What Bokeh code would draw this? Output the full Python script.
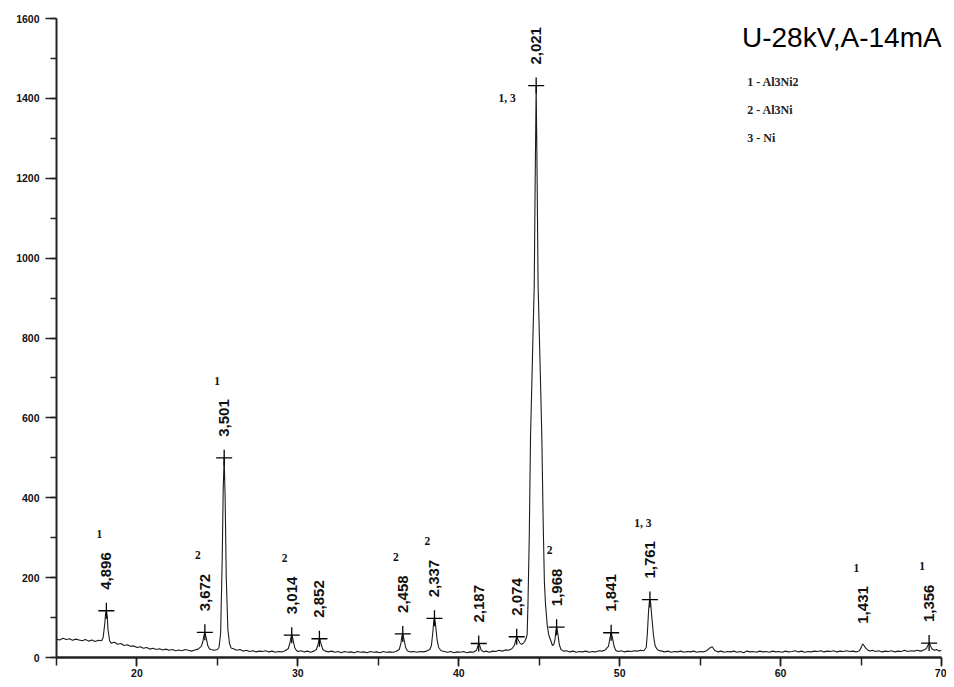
import math
from bokeh.plotting import figure
from bokeh.models import Range1d, SingleIntervalTicker, Label
from bokeh.core.properties import value
from bokeh.embed import file_html
from bokeh.resources import INLINE

# ---- diffractogram trace (2theta, intensity) ----
two_theta = [
    15.0, 15.2, 15.4, 15.6, 15.8, 16.0, 16.2, 16.4, 16.6, 16.8, 17.0, 17.2, 17.4, 17.6, 17.8,
    17.9, 18.0, 18.05, 18.1, 18.15, 18.2, 18.3, 18.4, 18.6, 18.8, 19.0, 19.2, 19.4, 19.6, 19.8,
    20.0, 20.2, 20.4, 20.6, 20.8, 21.0, 21.2, 21.4, 21.6, 21.8, 22.0, 22.2, 22.4, 22.6, 22.8,
    23.0, 23.2, 23.4, 23.6, 23.8, 24.0, 24.1, 24.16, 24.22, 24.3, 24.4, 24.5, 24.6, 24.8, 25.0,
    25.1, 25.2, 25.3, 25.36, 25.42, 25.48, 25.55, 25.65, 25.75, 25.85, 26.0, 26.2, 26.4, 26.6, 26.8,
    27.0, 27.2, 27.4, 27.6, 27.8, 28.0, 28.2, 28.4, 28.6, 28.8, 29.0, 29.2, 29.4, 29.5, 29.57,
    29.62, 29.7, 29.8, 29.9, 30.0, 30.2, 30.4, 30.6, 30.8, 31.0, 31.15, 31.25, 31.32, 31.36, 31.45,
    31.55, 31.7, 31.9, 32.1, 32.3, 32.5, 32.7, 32.9, 33.1, 33.3, 33.5, 33.7, 33.9, 34.1, 34.3,
    34.5, 34.7, 34.9, 35.1, 35.3, 35.5, 35.7, 35.9, 36.1, 36.3, 36.4, 36.47, 36.52, 36.6, 36.7,
    36.8, 37.0, 37.2, 37.4, 37.6, 37.8, 38.0, 38.2, 38.3, 38.38, 38.45, 38.49, 38.55, 38.65, 38.75,
    38.9, 39.1, 39.3, 39.5, 39.7, 39.9, 40.1, 40.3, 40.5, 40.7, 40.9, 41.1, 41.18, 41.24, 41.3,
    41.4, 41.55, 41.7, 41.9, 42.1, 42.3, 42.5, 42.7, 42.9, 43.1, 43.3, 43.45, 43.55, 43.6, 43.7,
    43.8, 43.9, 44.0, 44.1, 44.2, 44.25, 44.3, 44.38, 44.46, 44.55, 44.62, 44.69, 44.75, 44.81, 44.87,
    44.93, 45.0, 45.08, 45.16, 45.25, 45.32, 45.39, 45.5, 45.6, 45.74, 45.82, 45.9, 45.98, 46.04, 46.08,
    46.15, 46.25, 46.35, 46.5, 46.7, 46.9, 47.1, 47.3, 47.5, 47.7, 47.9, 48.1, 48.3, 48.5, 48.7,
    48.9, 49.1, 49.3, 49.38, 49.44, 49.47, 49.55, 49.65, 49.75, 49.9, 50.1, 50.3, 50.5, 50.7, 50.9,
    51.1, 51.3, 51.5, 51.65, 51.72, 51.8, 51.86, 51.92, 52.0, 52.1, 52.2, 52.3, 52.4, 52.6, 52.8,
    53.0, 53.2, 53.4, 53.6, 53.8, 54.0, 54.2, 54.4, 54.6, 54.8, 55.0, 55.2, 55.4, 55.6, 55.75,
    55.9, 56.1, 56.3, 56.5, 56.7, 56.9, 57.1, 57.3, 57.5, 57.7, 57.9, 58.1, 58.3, 58.5, 58.7,
    58.9, 59.1, 59.3, 59.5, 59.7, 59.9, 60.1, 60.3, 60.5, 60.7, 60.9, 61.1, 61.3, 61.5, 61.7,
    61.9, 62.1, 62.3, 62.5, 62.7, 62.9, 63.1, 63.3, 63.5, 63.7, 63.9, 64.1, 64.3, 64.5, 64.7,
    64.9, 65.02, 65.1, 65.18, 65.28, 65.4, 65.55, 65.7, 65.9, 66.1, 66.3, 66.5, 66.7, 66.9, 67.1,
    67.3, 67.5, 67.7, 67.9, 68.1, 68.3, 68.5, 68.7, 68.9, 69.05, 69.15, 69.23, 69.3, 69.4, 69.55,
    69.7, 69.85, 70.0,
]
counts = [
    46, 44, 48, 45, 47, 43, 46, 44, 42, 45, 41, 44, 40, 43, 42,
    50, 85, 110, 117, 105, 70, 42, 36, 38, 33, 35, 30, 32, 28, 29,
    25, 27, 23, 25, 21, 23, 20, 22, 19, 21, 18, 20, 17, 19, 17,
    20, 18, 16, 19, 21, 28, 40, 55, 63, 50, 30, 22, 20, 18, 20,
    25, 60, 250, 420, 500, 400, 200, 70, 35, 24, 22, 18, 20, 16, 18,
    15, 17, 14, 16, 15, 17, 14, 16, 13, 15, 14, 17, 22, 35, 50,
    56, 45, 25, 18, 15, 17, 14, 16, 13, 16, 20, 32, 45, 47, 33,
    20, 16, 14, 16, 13, 15, 12, 15, 13, 14, 12, 15, 13, 14, 12,
    15, 13, 14, 12, 15, 13, 14, 13, 15, 20, 35, 54, 59, 45, 25,
    17, 14, 15, 13, 15, 14, 16, 20, 30, 60, 92, 98, 85, 45, 25,
    17, 15, 13, 15, 12, 14, 13, 15, 12, 14, 13, 18, 28, 35, 30,
    18, 14, 16, 13, 16, 15, 18, 16, 19, 18, 22, 30, 45, 52, 44,
    36, 33, 35, 40, 50, 58, 133, 300, 555, 700, 820, 930, 1200, 1432, 1200,
    930, 820, 690, 555, 330, 190, 133, 80, 55, 40, 30, 32, 45, 68, 76,
    62, 32, 20, 16, 17, 14, 16, 13, 15, 14, 16, 13, 15, 14, 17,
    16, 19, 28, 45, 58, 62, 50, 28, 18, 15, 17, 14, 16, 15, 17,
    16, 18, 17, 25, 60, 120, 145, 138, 100, 55, 30, 22, 18, 16, 14,
    16, 13, 15, 14, 16, 13, 15, 14, 16, 13, 15, 14, 17, 24, 27,
    18, 14, 16, 13, 15, 14, 16, 13, 15, 12, 16, 14, 15, 13, 16,
    14, 15, 13, 16, 14, 15, 13, 16, 14, 15, 17, 14, 16, 13, 15,
    14, 16, 15, 17, 14, 16, 15, 17, 14, 16, 15, 17, 15, 16, 14,
    17, 26, 34, 30, 24, 19, 16, 18, 15, 17, 14, 16, 15, 17, 14,
    16, 15, 18, 15, 17, 16, 18, 16, 19, 22, 30, 36, 31, 22, 18,
    20, 16, 18,
]

# ---- identified reflections ----
peak_d = ["4,896", "3,672", "3,501", "3,014", "2,852", "2,458", "2,337", "2,187",
          "2,074", "2,021", "1,968", "1,841", "1,761", "1,431", "1,356"]
peak_2theta = [18.10, 24.22, 25.42, 29.62, 31.34, 36.52, 38.49, 41.24,
               43.60, 44.81, 46.08, 49.47, 51.88, 65.14, 69.23]
peak_int = [117, 63, 500, 56, 47, 59, 98, 35, 52, 1432, 76, 62, 145, 32, 36]
peak_phase = ["1", "2", "1", "2", "", "2", "2", "", "", "1, 3", "2", "", "1, 3", "1", "1"]
peak_marked = [True, True, True, True, True, True, True, True,
               True, True, True, True, True, False, True]

legend_items = ["1 - Al3Ni2", "2 - Al3Ni", "3 - Ni"]
title_text = "U-28kV,A-14mA"

x_ticks_interval = 10
y_ticks_interval = 200

p = figure(width=946, height=679, output_backend="svg", toolbar_location=None,
           x_range=Range1d(15, 70), y_range=Range1d(0, 1600),
           min_border_left=56, min_border_right=5, min_border_top=18, min_border_bottom=22)
p.outline_line_color = None
p.grid.visible = False
p.background_fill_color = "white"
p.border_fill_color = "white"

p.line(two_theta, counts, line_color="#1c1c1c", line_width=1.1)

mx = [x for x, m in zip(peak_2theta, peak_marked) if m]
my = [y for y, m in zip(peak_int, peak_marked) if m]
p.scatter(mx, my, marker="cross", size=16, line_color="black", line_width=1.3)

# d-spacing labels, rotated
p.text(x=peak_2theta, y=peak_int, text=peak_d, angle=math.pi / 2,
       text_align="left", text_baseline="middle", y_offset=-21,
       text_font=value("Liberation Sans"), text_font_style="bold",
       text_font_size="15px", text_color="#111111")

# phase labels above d-labels (the main peak is annotated beside its marker)
main_i = peak_int.index(max(peak_int))
ph_x, ph_y, ph_t = [], [], []
for i, (x, y, t) in enumerate(zip(peak_2theta, peak_int, peak_phase)):
    if t and i != main_i:
        ph_x.append(x); ph_y.append(y); ph_t.append(t)
p.text(x=ph_x, y=ph_y, text=ph_t, text_align="center", text_baseline="middle",
       x_offset=-7, y_offset=-77, text_font=value("Liberation Serif"),
       text_font_style="bold", text_font_size="11.5px", text_color="#111111")
p.text(x=[peak_2theta[main_i]], y=[peak_int[main_i]], text=[peak_phase[main_i]],
       text_align="center", text_baseline="middle", x_offset=-29, y_offset=12,
       text_font=value("Liberation Serif"), text_font_style="bold",
       text_font_size="11.5px", text_color="#111111")

# title and legend notes
p.add_layout(Label(x=57.6, y=1552, text=title_text, text_font="Liberation Sans",
                   text_font_size="28px", text_color="black", text_baseline="alphabetic"))
for t, yy in zip(legend_items, [1442, 1372, 1300]):
    p.add_layout(Label(x=57.93, y=yy, text=t, text_font="Liberation Serif",
                       text_font_style="bold", text_font_size="12px",
                       text_color="#222222", text_baseline="middle"))

# axes
p.xaxis.ticker = SingleIntervalTicker(interval=x_ticks_interval, num_minor_ticks=2)
p.yaxis.ticker = SingleIntervalTicker(interval=y_ticks_interval, num_minor_ticks=2)
for ax in (p.xaxis, p.yaxis):
    ax.axis_line_color = "#222222"
    ax.major_tick_line_color = "#222222"
    ax.minor_tick_line_color = "#222222"
    ax.major_tick_in = 0
    ax.minor_tick_in = 0
    ax.major_label_text_font = "Liberation Sans"
    ax.major_label_text_font_style = "bold"
    ax.major_label_text_color = "#111111"
p.xaxis.axis_line_width = 2.5
p.xaxis.major_tick_out = 9
p.xaxis.minor_tick_out = 8
p.xaxis.major_tick_line_width = 1.5
p.xaxis.minor_tick_line_width = 1.5
p.xaxis.major_label_standoff = 2
p.xaxis.major_label_text_font_size = "10.5px"
p.yaxis.axis_line_width = 2
p.yaxis.major_tick_out = 11
p.yaxis.minor_tick_out = 6
p.yaxis.major_tick_line_width = 1.5
p.yaxis.minor_tick_line_width = 1.5
p.yaxis.major_label_standoff = 6
p.yaxis.major_label_text_font_size = "10.5px"

open("out.html", "w").write(file_html(p, INLINE))
